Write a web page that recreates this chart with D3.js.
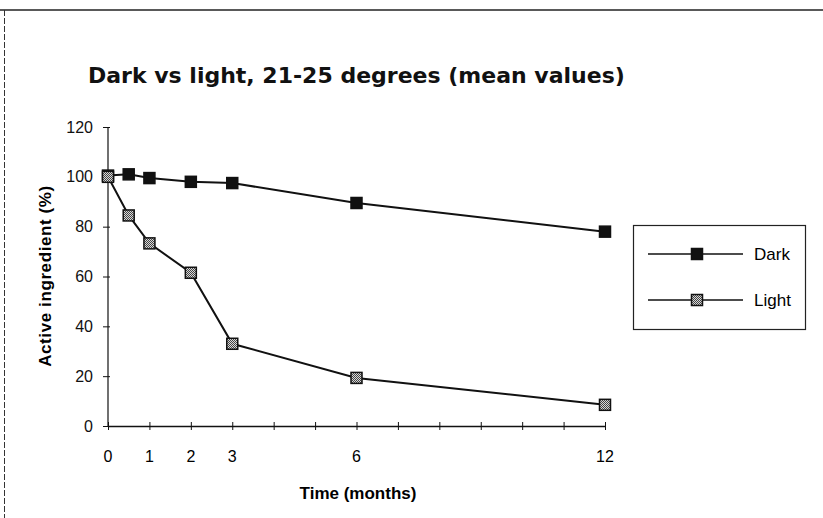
<!DOCTYPE html>
<html>
<head>
<meta charset="utf-8">
<script src="https://cdn.jsdelivr.net/npm/d3@7"></script>
<style>
  body { margin: 0; background: #fff; }
  svg { display: block; }
</style>
</head>
<body>
<script>
// data
var months = [0, 0.5, 1, 2, 3, 6, 12];
var darkValues = [100.5, 101, 99.5, 98, 97.5, 89.5, 78];
var lightValues = [100, 84.5, 73.3, 61.5, 33, 19.3, 8.5];
var xTickLabels = [0, 1, 2, 3, 6, 12];
var yTicks = [0, 20, 40, 60, 80, 100, 120];
var seriesNames = ["Dark", "Light"];

var width = 823, height = 518;

var svg = d3.select("body").append("svg")
	.attr("width", width)
	.attr("height", height);

// checker fill for the light markers
var pat = svg.append("defs").append("pattern")
	.attr("id", "checker")
	.attr("width", 2).attr("height", 2)
	.attr("patternUnits", "userSpaceOnUse");
pat.append("rect").attr("width", 2).attr("height", 2).attr("fill", "#d8d8d8");
pat.append("rect").attr("width", 1).attr("height", 1).attr("fill", "#444");
pat.append("rect").attr("x", 1).attr("y", 1).attr("width", 1).attr("height", 1).attr("fill", "#444");

// outer frame (only top and left show in the scan)
svg.append("line").attr("x1", 0).attr("x2", width).attr("y1", 10).attr("y2", 10)
	.attr("stroke", "#222").attr("stroke-width", 1.5);
svg.append("line").attr("x1", 4.5).attr("x2", 4.5).attr("y1", 10).attr("y2", height)
	.attr("stroke", "#333").attr("stroke-width", 1).attr("stroke-dasharray", "6,2");

svg.append("text")
	.attr("x", 88).attr("y", 83)
	.style("font-family", "'DejaVu Sans', sans-serif")
	.style("font-weight", "bold")
	.style("font-size", "22px")
	.style("fill", "#111")
	.text("Dark vs light, 21-25 degrees (mean values)");

var x = d3.scaleLinear().domain([0, 12]).range([108, 605]);
var y = d3.scaleLinear().domain([0, 120]).range([426, 127]);

var xAxis = svg.append("g")
	.attr("transform", "translate(0," + y(0) + ")")
	.call(d3.axisBottom(x).tickValues(d3.range(0, 13)).tickSize(0).tickFormat(""));
xAxis.select(".domain").attr("stroke", "#111").attr("stroke-width", 1.5);
xAxis.selectAll(".tick line").attr("y1", -4).attr("y2", 4).attr("stroke", "#111");

svg.append("g").selectAll("text")
	.data(xTickLabels)
	.enter().append("text")
	.attr("x", function(d) { return x(d); })
	.attr("y", 462)
	.attr("text-anchor", "middle")
	.style("font-family", "'Liberation Sans', Arial, sans-serif")
	.style("font-size", "16px")
	.text(function(d) { return d; });

var yAxis = svg.append("g")
	.attr("transform", "translate(" + x(0) + ",0)")
	.call(d3.axisLeft(y).tickValues(yTicks).tickSize(5).tickPadding(10));
yAxis.select(".domain").attr("stroke", "#111").attr("stroke-width", 1.2).attr("d", "M0," + y(120) + "V" + y(0));
yAxis.selectAll(".tick line").attr("x2", -5).attr("x1", 2).attr("stroke", "#111");
yAxis.selectAll(".tick text")
	.style("font-family", "'Liberation Sans', Arial, sans-serif")
	.style("font-size", "16px")
	.attr("fill", "#111");

svg.append("text")
	.attr("transform", "translate(51,276) rotate(-90)")
	.attr("text-anchor", "middle")
	.style("font-family", "'Liberation Sans', Arial, sans-serif")
	.style("font-weight", "bold")
	.style("font-size", "17px")
	.style("letter-spacing", "0.6px")
	.text("Active ingredient (%)");

svg.append("text")
	.attr("x", 358).attr("y", 499)
	.attr("text-anchor", "middle")
	.style("font-family", "'Liberation Sans', Arial, sans-serif")
	.style("font-weight", "bold")
	.style("font-size", "17px")
	.text("Time (months)");

var line = d3.line()
	.x(function(d) { return x(d.m); })
	.y(function(d) { return y(d.v); });

function toPoints(vals) {
	return months.map(function(m, i) { return {m: m, v: vals[i]}; });
}

var series = [
	{name: seriesNames[0], pts: toPoints(darkValues), fill: "#111"},
	{name: seriesNames[1], pts: toPoints(lightValues), fill: "url(#checker)"}
];

var ms = 11;
series.forEach(function(s) {
	svg.append("path")
		.datum(s.pts)
		.attr("d", line)
		.attr("fill", "none")
		.attr("stroke", "#111")
		.attr("stroke-width", 2);
	svg.append("g").selectAll("rect")
		.data(s.pts)
		.enter().append("rect")
		.attr("x", function(d) { return x(d.m) - ms / 2; })
		.attr("y", function(d) { return y(d.v) - ms / 2; })
		.attr("width", ms).attr("height", ms)
		.attr("fill", s.fill)
		.attr("stroke", "#111")
		.attr("stroke-width", 1.5);
});

// legend
var legend = svg.append("g");
legend.append("rect")
	.attr("x", 633.5).attr("y", 225.5).attr("width", 172).attr("height", 104)
	.attr("fill", "none").attr("stroke", "#222").attr("stroke-width", 1.2);

var rows = legend.selectAll(".row")
	.data(series)
	.enter().append("g")
	.attr("transform", function(d, i) { return "translate(0," + (254 + i * 46) + ")"; });
rows.append("line")
	.attr("x1", 648).attr("x2", 743)
	.attr("stroke", "#111").attr("stroke-width", 1.5);
rows.append("rect")
	.attr("x", 697 - ms / 2).attr("y", -ms / 2)
	.attr("width", ms).attr("height", ms)
	.attr("fill", function(d) { return d.fill; })
	.attr("stroke", "#111").attr("stroke-width", 1.5);
rows.append("text")
	.attr("x", 754).attr("y", 6)
	.style("font-family", "'Liberation Sans', Arial, sans-serif")
	.style("font-size", "17px")
	.text(function(d) { return d.name; });
</script>
</body>
</html>
